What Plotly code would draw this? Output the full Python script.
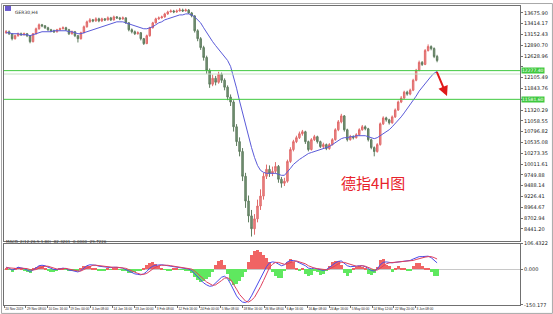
import plotly.graph_objects as go
from plotly.subplots import make_subplots

# ---------------- data ----------------
first_open = 13196
closes = [13220,13172,13052,13124,13172,13148,13172,13124,12980,13172,
          13292,13388,13364,13316,13268,13244,13220,13268,13292,13316,
          13268,13172,13220,13124,13052,13196,13340,13460,13508,13484,
          13532,13484,13532,13508,13556,13508,13580,13556,13532,13556,
          13436,13268,13220,13172,13196,13052,12932,13124,13316,13436,
          13532,13556,13580,13652,13700,13724,13700,13724,13748,13724,
          13748,13676,13604,13244,13052,12836,12596,12284,11948,12092,
          11996,12188,12044,11876,11636,11516,10916,10556,10316,9716,
          9116,8756,8444,8684,8996,9236,9716,9884,9788,9836,
          9956,9644,9548,9596,10076,10364,10556,10652,10748,10796,
          10556,10364,10604,10676,10556,10436,10484,10388,10484,10604,
          10844,11036,11180,10844,10604,10676,10652,10724,10844,10916,
          10868,10604,10412,10316,10484,10988,11132,11084,11012,11156,
          11324,11516,11612,11756,11708,11804,12044,12284,12476,12428,
          12764,12860,12812,12620,12524]
highs = [13260,13250,13190,13150,13200,13200,13200,13190,13140,13190,
         13320,13420,13410,13380,13340,13290,13270,13290,13320,13350,
         13340,13290,13250,13240,13140,13220,13370,13490,13550,13530,
         13570,13560,13560,13550,13590,13580,13610,13600,13580,13590,
         13570,13450,13300,13250,13230,13210,13070,13150,13340,13460,
         13560,13590,13610,13680,13730,13760,13750,13760,13795,13780,
         13780,13770,13700,13620,13280,13090,12880,12640,12330,12180,
         12150,12250,12230,12090,11920,11700,11560,10980,10660,10400,
         9800,9250,8900,8800,9150,9400,9800,10000,9980,9950,
         10060,9990,9700,9680,10120,10420,10600,10700,10800,10840,
         10820,10580,10640,10720,10700,10580,10530,10510,10520,10640,
         10880,11080,11230,11200,10870,10720,10710,10760,10880,10960,
         10950,10890,10630,10440,10520,11020,11170,11160,11110,11190,
         11360,11550,11660,11790,11790,11840,12080,12320,12520,12510,
         12800,12913,12890,12840,12660]
lows = [13170,13140,13010,13030,13100,13120,13130,13090,12940,12960,
        13150,13270,13330,13290,13240,13210,13190,13200,13250,13280,
        13240,13140,13150,13090,12960,13030,13180,13320,13440,13450,
        13460,13450,13460,13480,13490,13480,13490,13530,13500,13510,
        13410,13230,13180,13140,13150,13010,12900,12920,13100,13300,
        13420,13510,13540,13560,13630,13690,13670,13680,13710,13700,
        13710,13650,13570,13200,12990,12780,12520,12200,11860,11900,
        11920,11960,11980,11800,11560,11420,10800,10450,10200,9600,
        8950,8600,8255,8300,8600,8900,9150,9650,9700,9720,
        9780,9560,9440,9480,9560,10040,10320,10520,10620,10700,
        10500,10320,10340,10570,10510,10400,10400,10350,10360,10460,
        10580,10810,11000,10800,10560,10580,10610,10630,10700,10820,
        10830,10560,10370,10200,10290,10460,10960,11040,10970,10990,
        11130,11300,11490,11590,11670,11680,11780,12020,12260,12390,
        12410,12740,12770,12580,12480]
ma_values = [13196,13196,13172,13172,13172,13148,13148,13148,13124,13148,
             13172,13196,13220,13220,13220,13220,13244,13244,13244,13244,
             13244,13220,13220,13196,13172,13172,13196,13220,13244,13268,
             13292,13316,13340,13364,13388,13412,13436,13460,13460,13460,
             13436,13412,13388,13364,13340,13316,13292,13292,13316,13340,
             13388,13436,13460,13508,13532,13556,13580,13604,13628,13628,
             13652,13652,13628,13580,13508,13436,13316,13196,13100,12980,
             12884,12788,12692,12620,12524,12380,12140,11852,11540,11252,
             10964,10652,10412,10172,9980,9860,9812,9788,9788,9788,
             9788,9764,9740,9740,9812,9908,10004,10076,10124,10172,
             10220,10268,10292,10316,10340,10364,10388,10412,10436,10484,
             10532,10580,10628,10652,10652,10676,10676,10700,10700,10700,
             10700,10676,10652,10628,10652,10700,10748,10796,10844,10916,
             10988,11060,11156,11252,11348,11444,11564,11660,11780,11876,
             11972,12068,12140,12212,12260]
macd_main = [8,4,-4,0,8,6,2,-4,-10,-4,
             6,14,16,14,8,2,-2,-2,2,4,
             2,-4,-6,-8,-12,-6,6,14,18,18,
             16,12,10,8,8,6,8,8,6,4,
             -2,-10,-16,-20,-22,-24,-20,-10,4,12,
             16,18,18,16,14,12,10,10,8,6,
             4,0,-6,-20,-34,-48,-58,-66,-72,-70,
             -58,-44,-34,-30,-40,-62,-90,-112,-128,-138,
             -140,-132,-112,-88,-62,-36,-12,10,26,30,
             28,20,14,18,30,36,36,32,26,22,
             14,4,2,4,0,-4,-6,-2,6,16,
             26,32,34,24,14,10,10,12,14,14,
             10,2,-6,-8,0,18,28,30,28,26,
             28,30,32,34,34,36,42,48,52,52,
             54,54,48,36,26]
macd_signal = [6,5,2,0,2,4,4,2,-2,-4,
               -2,4,8,12,12,8,4,0,0,2,
               3,0,-3,-5,-8,-8,-2,6,12,16,
               16,14,12,10,8,7,7,8,7,6,
               3,-2,-8,-14,-18,-22,-22,-18,-8,0,
               8,14,16,17,16,14,12,10,9,8,
               6,4,0,-8,-18,-30,-42,-54,-62,-68,
               -66,-58,-48,-38,-36,-44,-62,-84,-106,-122,
               -134,-138,-130,-118,-98,-74,-48,-20,6,20,
               28,28,24,20,22,28,32,34,30,26,
               22,14,8,4,2,0,-2,-3,0,6,
               14,22,28,28,24,18,14,12,12,14,
               12,8,2,-4,-4,4,14,22,26,27,
               28,28,30,32,34,34,36,40,44,48,
               50,52,52,48,42]
macd_hist = [3,-2,-10,4,10,4,-4,-10,-14,2,
             12,16,14,6,-6,-12,-10,-4,4,6,
             -2,-8,-6,-6,-8,4,14,16,14,6,
             2,-4,-4,-4,2,-2,2,2,-2,-4,
             -8,-14,-16,-12,-8,-6,4,20,28,30,
             24,14,4,-2,-4,-4,2,4,-2,-2,
             -4,-6,-14,-30,-44,-52,-50,-40,-30,-10,
             20,36,38,20,-20,-50,-66,-60,-50,-30,
             -10,30,60,78,80,72,60,50,30,-10,
             -26,-36,-34,-4,30,44,30,8,-6,6,
             -18,-28,-22,-4,-12,-24,-20,-6,16,30,
             36,34,20,-16,-28,-14,4,12,16,12,
             2,-18,-24,-16,10,40,44,20,14,-10,
             8,14,6,2,-8,-4,14,26,28,16,
             8,6,-12,-26,-28]
date_labels = ["20 Nov 2019", "29 Nov 08:00", "10 Dec 16:00", "19 Dec 00:00",
               "3 Jan 08:00", "14 Jan 16:00", "23 Jan 00:00", "3 Feb 08:00",
               "12 Feb 16:00", "24 Feb 00:00", "5 Mar 08:00", "18 Mar 16:00",
               "26 Mar 08:00", "6 Apr 16:00", "16 Apr 08:00", "24 Apr 16:00",
               "5 May 00:00", "14 May 12:00", "22 May 20:00", "3 Jun 08:00"]
price_ticks = [13675.90, 13414.17, 13152.43, 12890.70, 12628.96, 12367.23,
               12105.49, 11843.76, 11582.02, 11320.29, 11058.55, 10796.82,
               10535.08, 10273.35, 10011.61, 9749.88, 9488.14, 9226.41,
               8964.67, 8702.94, 8441.20]
level_lines = [12277.40, 11581.60]
pale_line = 12195.0
macd_ticks = [106.4322, 0.0, -150.177]
macd_tick_text = ["106.4322", "0.000", "-150.177"]
arrow_from = (143.7, 12284)
arrow_to = (147.3, 11660)
title_text = "GER30,H4"
macd_title = "MACD_2(12,26,9,1,80) -82.3201 -0.0000 -29.7226"
chart_note = "德指4H图"

# ---------------- figure ----------------
W, H = 553, 314
ML, MR, MT, MB = 3, 33, 3, 9
plot_w = W - ML - MR
plot_h = H - MT - MB

n = len(closes)
idx = list(range(n))
opens = [first_open] + closes[:-1]

fig = make_subplots(rows=2, cols=1, shared_xaxes=True)

fig.add_trace(go.Candlestick(
    x=idx, open=opens, high=highs, low=lows, close=closes,
    increasing=dict(line=dict(color="#e06a6a", width=1), fillcolor="#ee8a8a"),
    decreasing=dict(line=dict(color="#5f7d5f", width=1), fillcolor="#7a967a"),
    whiskerwidth=0, hoverinfo="skip", showlegend=False), row=1, col=1)

fig.add_trace(go.Scatter(x=idx, y=ma_values, mode="lines",
                         line=dict(color="#5a5ad8", width=1),
                         hoverinfo="skip", showlegend=False), row=1, col=1)

bar_colors = ["#f06464" if v >= 0 else "#5fe85f" for v in macd_hist]
fig.add_trace(go.Bar(x=idx, y=macd_hist, marker_color=bar_colors,
                     marker_line_width=0, width=1.0,
                     hoverinfo="skip", showlegend=False), row=2, col=1)
fig.add_trace(go.Scatter(x=idx, y=macd_main, mode="lines",
                         line=dict(color="#4b4bea", width=1),
                         hoverinfo="skip", showlegend=False), row=2, col=1)
fig.add_trace(go.Scatter(x=idx, y=macd_signal, mode="lines",
                         line=dict(color="#e0405e", width=1),
                         hoverinfo="skip", showlegend=False), row=2, col=1)

for lv in level_lines:
    fig.add_hline(y=lv, line_color="#3fc93f", line_width=1, row=1, col=1)
fig.add_hline(y=pale_line, line_color="#c6e2c6", line_width=1, row=1, col=1)

for lv in level_lines:
    fig.add_annotation(x=1, xref="paper", y=lv, yref="y", xanchor="left",
                       xshift=1, text=f"{lv:.2f}", showarrow=False,
                       bgcolor="#3fc93f", borderpad=0,
                       font=dict(size=4.5, color="white", family="DejaVu Sans"))

fig.add_annotation(x=arrow_to[0], y=arrow_to[1], ax=arrow_from[0], ay=arrow_from[1],
                   xref="x", yref="y", axref="x", ayref="y", text="",
                   showarrow=True, arrowhead=2, arrowsize=1, arrowwidth=2,
                   arrowcolor="#e01818")

fig.add_annotation(x=(407 - ML) / plot_w, y=(H - MB - 181) / plot_h,
                   xref="paper", yref="paper", text=chart_note, showarrow=False,
                   font=dict(size=15, color="#e8232b", family="Noto Sans CJK SC"))

fig.add_annotation(x=(12 - ML) / plot_w, y=(H - MB - 5) / plot_h,
                   xref="paper", yref="paper", xanchor="left", text=title_text,
                   showarrow=False, font=dict(size=4.5, color="#333333", family="DejaVu Sans"))
fig.add_shape(type="rect", xref="paper", yref="paper",
              x0=(4 - ML) / plot_w, x1=(10 - ML) / plot_w,
              y0=(H - MB - 8) / plot_h, y1=(H - MB - 3) / plot_h,
              fillcolor="#6a5acd", line_width=0)
fig.add_annotation(x=(3 - ML) / plot_w, y=(H - MB - 245) / plot_h,
                   xref="paper", yref="paper", xanchor="left", text=macd_title,
                   showarrow=False, font=dict(size=4, color="#333333", family="DejaVu Sans"))

# outer frame
fig.add_shape(type="rect", xref="paper", yref="paper",
              x0=-(ML - 0.5) / plot_w, x1=(W - ML - 0.5) / plot_w,
              y0=-(MB - 0.5) / plot_h, y1=(H - MB - 0.5) / plot_h,
              line=dict(color="#a8a8a8", width=1))

main_bottom = (H - MB - 240) / plot_h
macd_top = (H - MB - 243) / plot_h
x_range = [-0.7, 171.7]
tick_pos = [k * 7.233 - 0.6 for k in range(len(date_labels))]

# axis labels sitting under the green level boxes are covered, as in the reference
price_text = []
for v in price_ticks:
    hidden = any(abs(v - lv) < 100 for lv in level_lines)
    price_text.append("" if hidden else f"{v:.2f}")

axis_font = dict(size=5, color="#222222", family="DejaVu Sans")
x_font = dict(size=3.2, color="#222222", family="Liberation Sans")
fig.update_layout(
    width=W, height=H, margin=dict(l=ML, r=MR, t=MT, b=MB),
    paper_bgcolor="white", plot_bgcolor="white", showlegend=False,
    bargap=0, hovermode=False,
    xaxis=dict(range=x_range, showticklabels=False, showgrid=False,
               zeroline=False, showline=True, mirror=True, linecolor="#707070",
               linewidth=1, rangeslider=dict(visible=False), ticks=""),
    xaxis2=dict(range=x_range, tickvals=tick_pos, ticktext=date_labels,
                tickangle=0, ticks="outside", ticklen=2, tickcolor="#707070",
                ticklabelposition="outside right", tickfont=x_font,
                showgrid=False, zeroline=False, showline=True, mirror=True,
                linecolor="#707070", linewidth=1,
                rangeslider=dict(visible=False)),
    yaxis=dict(domain=[main_bottom, 1], range=[8156, 13844], side="right",
               tickvals=price_ticks, ticktext=price_text,
               ticks="outside", ticklen=2, tickcolor="#707070", tickfont=axis_font,
               showgrid=False, zeroline=False, showline=True, mirror=True,
               linecolor="#707070", linewidth=1),
    yaxis2=dict(domain=[0, macd_top], range=[-150.18, 106.43], side="right",
                tickvals=macd_ticks, ticktext=macd_tick_text,
                ticks="outside", ticklen=2, tickcolor="#707070", tickfont=axis_font,
                showgrid=False, zeroline=True, zerolinecolor="#c8c8c8",
                zerolinewidth=1, showline=True, mirror=True,
                linecolor="#707070", linewidth=1),
)

fig.write_html("out.html")
